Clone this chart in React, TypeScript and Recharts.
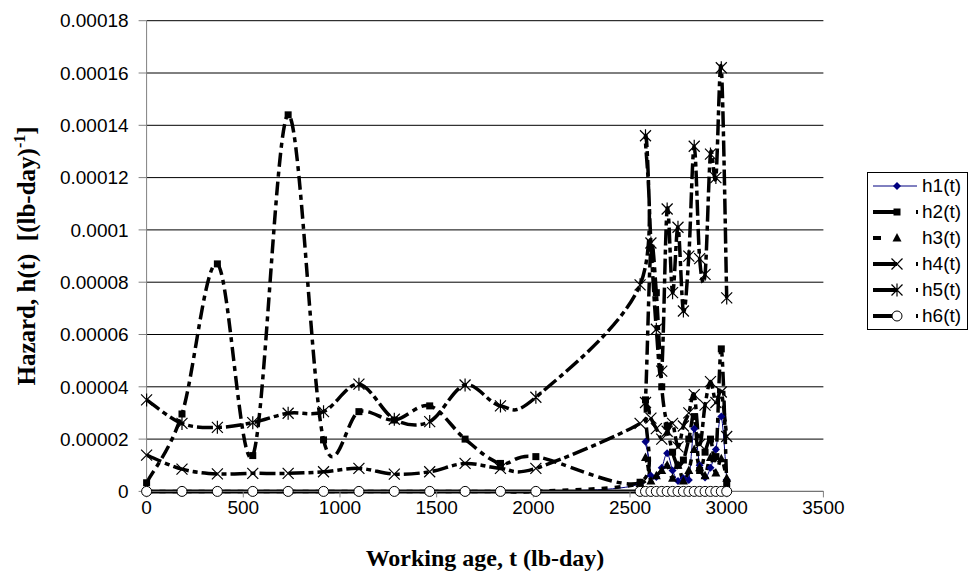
import { LineChart, Line, XAxis, YAxis, CartesianGrid, Legend } from 'recharts';

const W = 968;
const H = 574;

// working age t (lb-day)
const tEarly = [0, 183, 366, 549, 732, 915, 1098, 1281, 1464, 1647, 1830, 2013];
const tLate = [2552, 2580, 2608, 2636, 2664, 2692, 2720, 2748, 2776, 2804, 2832, 2860, 2888, 2916, 2944, 2972, 3000];

// hazard values, in units of 1e-5 (lb-day)^-1
const h1Early = [0, 0, 0, 0, 0, 0, 0, 0, 0, 0, 0, 0];
const h1Late = [0.3, 1.9, 0.6, 0.55, 0.9, 1.46, 0.8, 0.4, 0.5, 0.44, 2.4, 1.0, 0.53, 0.9, 1.6, 2.86, 0.45];
const h2Early = [0.33, 2.96, 8.7, 1.37, 14.4, 1.97, 3.05, 2.73, 3.27, 2.0, 1.07, 1.33];
const h2Late = [0.35, 3.5, 9.3, 7.6, 4.0, 2.5, 1.5, 1.0, 1.2, 2.0, 2.86, 0.8, 1.5, 2.0, 1.33, 5.45, 0.3];
const h3Early = [0, 0, 0, 0, 0, 0, 0, 0, 0, 0, 0, 0];
const h3Late = [0.3, 1.3, 0.4, 0.6, 0.8, 1.0, 0.5, 1.0, 0.4, 0.8, 1.6, 0.9, 0.6, 1.3, 0.7, 1.25, 0.5];
const h4Early = [1.39, 0.85, 0.67, 0.69, 0.69, 0.75, 0.88, 0.66, 0.75, 1.07, 0.88, 0.88];
const h4Late = [2.6, 3.4, 2.8, 2.4, 2.0, 2.3, 2.6, 1.7, 2.5, 3.0, 3.7, 1.8, 3.3, 4.2, 3.4, 3.8, 2.1];
const h5Early = [3.5, 2.6, 2.45, 2.63, 2.99, 3.05, 4.1, 2.76, 2.67, 4.07, 3.27, 3.6];
const h5Late = [7.9, 13.6, 9.5, 6.2, 4.6, 10.8, 7.6, 10.1, 6.9, 9.0, 13.2, 8.9, 8.3, 12.9, 12.0, 16.2, 7.4];
const h6Early = [0, 0, 0, 0, 0, 0, 0, 0, 0, 0, 0, 0];
const h6Late = [0, 0, 0, 0, 0, 0, 0, 0, 0, 0, 0, 0, 0, 0, 0, 0, 0];

const xTicks = [0, 500, 1000, 1500, 2000, 2500, 3000, 3500];
const yTicks = [0, 0.00002, 0.00004, 0.00006, 0.00008, 0.0001, 0.00012, 0.00014, 0.00016, 0.00018];
const yTickLabels = ['0', '0.00002', '0.00004', '0.00006', '0.00008', '0.0001', '0.00012', '0.00014', '0.00016', '0.00018'];

const UNIT = 1e-5;
const toPoints = (early: number[], late: number[]) => {
    const ts = [...tEarly, ...tLate];
    const vs = [...early, ...late];
    return ts.map((t, i) => ({ t, v: vs[i] * UNIT }));
};

const SANS = '"Liberation Sans", Arial, sans-serif';
const SERIF = '"Liberation Serif", "Times New Roman", serif';

// excel style smoothing: catmull-rom bezier, control points at 1/6
const excelSmooth = (ctx: any) => {
    let pts: number[][] = [];
    return {
        areaStart() {},
        areaEnd() {},
        lineStart() { pts = []; },
        point(x: number, y: number) { pts.push([+x, +y]); },
        lineEnd() {
            if (!pts.length) return;
            ctx.moveTo(pts[0][0], pts[0][1]);
            for (let i = 0; i < pts.length - 1; i++) {
                const p0 = pts[i - 1] || pts[i];
                const p1 = pts[i];
                const p2 = pts[i + 1];
                const p3 = pts[i + 2] || p2;
                ctx.bezierCurveTo(
                    p1[0] + (p2[0] - p0[0]) / 6, p1[1] + (p2[1] - p0[1]) / 6,
                    p2[0] - (p3[0] - p1[0]) / 6, p2[1] - (p3[1] - p1[1]) / 6,
                    p2[0], p2[1]
                );
            }
        },
    };
};

type M = { cx: number; cy: number };
const Diamond = ({ cx, cy }: M) => <path d={`M${cx},${cy - 4}L${cx + 4},${cy}L${cx},${cy + 4}L${cx - 4},${cy}Z`} fill="#000080" />;
const Square = ({ cx, cy }: M) => <rect x={cx - 3.5} y={cy - 3.5} width={7} height={7} fill="#000" />;
const Triangle = ({ cx, cy }: M) => <path d={`M${cx},${cy - 5}L${cx + 4.5},${cy + 3.5}L${cx - 4.5},${cy + 3.5}Z`} fill="#000" />;
const Cross = ({ cx, cy }: M) => (
    <path d={`M${cx - 5.5},${cy - 5.5}L${cx + 5.5},${cy + 5.5}M${cx + 5.5},${cy - 5.5}L${cx - 5.5},${cy + 5.5}`} stroke="#000" strokeWidth={1.2} fill="none" />
);
const Star = ({ cx, cy }: M) => (
    <path d={`M${cx - 5.5},${cy - 5.5}L${cx + 5.5},${cy + 5.5}M${cx + 5.5},${cy - 5.5}L${cx - 5.5},${cy + 5.5}M${cx},${cy - 6.5}L${cx},${cy + 6.5}`} stroke="#000" strokeWidth={1.2} fill="none" />
);
const Ring = ({ cx, cy }: M) => <circle cx={cx} cy={cy} r={5} fill="#fff" stroke="#000" strokeWidth={1} />;

const series = [
    { key: 'h1', name: 'h1(t)', data: toPoints(h1Early, h1Late), stroke: '#000080', width: 1, dash: undefined, Marker: Diamond },
    { key: 'h2', name: 'h2(t)', data: toPoints(h2Early, h2Late), stroke: '#000', width: 3.5, dash: '14 5 5 5', Marker: Square },
    { key: 'h3', name: 'h3(t)', data: toPoints(h3Early, h3Late), stroke: '#000', width: 3.5, dash: '6 7', Marker: Triangle },
    { key: 'h4', name: 'h4(t)', data: toPoints(h4Early, h4Late), stroke: '#000', width: 3.5, dash: '16 4 5 4', Marker: Cross },
    { key: 'h5', name: 'h5(t)', data: toPoints(h5Early, h5Late), stroke: '#000', width: 3.5, dash: '16 4 5 4', Marker: Star },
    { key: 'h6', name: 'h6(t)', data: toPoints(h6Early, h6Late), stroke: '#000', width: 4, dash: undefined, Marker: Ring },
];

function LegendBox() {
    return (
        <div style={{ border: '1px solid #000', background: '#fff', boxSizing: 'border-box', width: 101, height: 158 }}>
            {series.map(s => (
                <div key={s.key} style={{ display: 'flex', alignItems: 'center', height: 26 }}>
                    <svg width={54} height={20} style={{ display: 'block', flex: 'none' }}>
                        {s.key === 'h1' && <line x1={5} y1={10} x2={49} y2={10} stroke={s.stroke} strokeWidth={1} />}
                        {s.key === 'h3' && <line x1={5} y1={10} x2={13} y2={10} stroke="#000" strokeWidth={4} />}
                        {s.key !== 'h1' && s.key !== 'h3' && (
                            <>
                                <line x1={5} y1={10} x2={29} y2={10} stroke="#000" strokeWidth={4} />
                                <line x1={48} y1={10} x2={50} y2={10} stroke="#000" strokeWidth={4} />
                            </>
                        )}
                        <s.Marker cx={29} cy={10} />
                    </svg>
                    <span style={{ fontFamily: SANS, fontSize: 19, color: '#000', lineHeight: '20px', whiteSpace: 'nowrap' }}>{s.name}</span>
                </div>
            ))}
        </div>
    );
}

export default function App() {
    return (
        <div style={{ position: 'absolute', left: 0, top: 0, width: W, height: H, background: '#fff' }}>
            <LineChart width={W} height={H} margin={{ top: 20.7, right: 144.6, left: 0, bottom: 42.6 }}>
                <CartesianGrid vertical={false} stroke="#000" strokeWidth={1} />
                <XAxis
                    type="number"
                    dataKey="t"
                    domain={[0, 3500]}
                    ticks={xTicks}
                    allowDuplicatedCategory={false}
                    stroke="#808080"
                    tickSize={6}
                    tickMargin={3}
                    height={40}
                    tick={{ fill: '#000', fontSize: 19, fontFamily: SANS }}
                    label={{
                        content: () => (
                            <text x={485} y={566} textAnchor="middle" fontFamily={SERIF} fontWeight="bold" fontSize={24} fill="#000">
                                Working age, t (lb-day)
                            </text>
                        ),
                    }}
                />
                <YAxis
                    type="number"
                    domain={[0, 0.00018]}
                    ticks={yTicks}
                    width={146.6}
                    stroke="#808080"
                    tickSize={8}
                    tickMargin={10}
                    interval={0}
                    tick={{ fill: '#000', fontSize: 19, fontFamily: SANS }}
                    tickFormatter={(v: number) => yTickLabels[yTicks.findIndex(y => Math.abs(y - v) < 1e-9)] ?? String(v)}
                    label={{
                        content: () => (
                            <text transform="translate(35,256) rotate(-90)" textAnchor="middle" fontFamily={SERIF} fontWeight="bold" fontSize={25} fill="#000" style={{ whiteSpace: 'pre' }}>
                                Hazard, h(t)  [(lb-day)<tspan dy={-10} fontSize={16}>-1</tspan><tspan dy={10}>]</tspan>
                            </text>
                        ),
                    }}
                />
                <Legend
                    layout="vertical"
                    align="center"
                    verticalAlign="middle"
                    content={() => <LegendBox />}
                    wrapperStyle={{ left: 867, top: 172, width: 101, height: 158 }}
                />
                {series.map(s => (
                    <Line
                        key={s.key}
                        data={s.data}
                        dataKey="v"
                        name={s.name}
                        type={excelSmooth as any}
                        stroke={s.stroke}
                        strokeWidth={s.width}
                        strokeDasharray={s.dash}
                        isAnimationActive={false}
                        activeDot={false}
                        dot={(p: any) => <s.Marker key={`${s.key}-${p.index}`} cx={p.cx} cy={p.cy} />}
                    />
                ))}
            </LineChart>
        </div>
    );
}
